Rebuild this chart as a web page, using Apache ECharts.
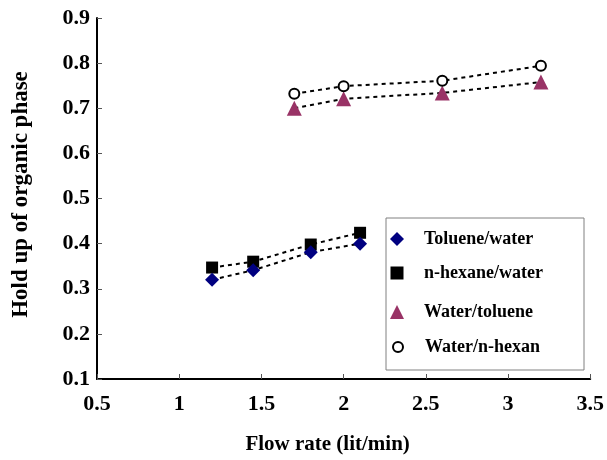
<!DOCTYPE html>
<html>
<head>
<meta charset="utf-8">
<script src="https://cdn.jsdelivr.net/npm/echarts@6/dist/echarts.min.js"></script>
<style>html,body{margin:0;padding:0;background:#fff}#c{width:607px;height:460px}</style>
</head>
<body>
<div id="c"></div>
<script>
var seriesNames = ['Toluene/water', 'n-hexane/water', 'Water/toluene', 'Water/n-hexan'];
var xLowGroup = [1.2, 1.45, 1.8, 2.1];
var xHighGroup = [1.7, 2.0, 2.6, 3.2];
var tolueneWater = [0.32, 0.341, 0.381, 0.400];
var hexaneWater = [0.347, 0.360, 0.398, 0.424];
var waterToluene = [0.700, 0.721, 0.734, 0.758];
var waterHexan = [0.732, 0.749, 0.761, 0.794];

function pairs(xs, ys) { return xs.map(function (x, i) { return [x, ys[i]]; }); }

var font = 'Liberation Serif';
var chart = echarts.init(document.getElementById('c'), null, { renderer: 'canvas' });

function dashLine(data) {
  return {
    type: 'line', data: data, symbol: 'none', silent: true, z: 3,
    lineStyle: { color: '#000', width: 2, type: [4, 4] }
  };
}

function legendAt(name, top, iconSize) {
  var s = iconSize || 14;
  return {
    left: 385 + (14 - s) / 2, top: top, orient: 'vertical', data: [name],
    itemWidth: s, itemHeight: s, itemGap: 0,
    textStyle: { fontFamily: font, fontWeight: 'bold', fontSize: 18, color: '#000',
      padding: [0, 0, 0, 15 + (14 - s) / 2] }
  };
}

chart.setOption({
  animation: false,
  backgroundColor: '#fff',
  grid: { left: 97, right: 15, top: 18, bottom: 79 },
  graphic: [{
    type: 'rect', shape: { x: 386, y: 218, width: 198, height: 152 },
    style: { fill: '#fff', stroke: '#808080', lineWidth: 1 }, z: 1
  }],
  legend: [
    legendAt(seriesNames[0], 225),
    legendAt(seriesNames[1], 259, 13),
    legendAt(seriesNames[2], 298),
    legendAt(seriesNames[3], 333, 10)
  ],
  xAxis: {
    type: 'value', min: 0.5, max: 3.5, interval: 0.5,
    name: 'Flow rate (lit/min)', nameLocation: 'middle', nameGap: 55,
    nameTextStyle: { fontFamily: font, fontWeight: 'bold', fontSize: 21, color: '#000', padding: [0, 32, 0, 0] },
    axisLine: { show: true, lineStyle: { color: '#000', width: 2 } },
    axisTick: { show: true, inside: true, length: 5, lineStyle: { color: '#555', width: 1 } },
    axisLabel: { fontFamily: font, fontWeight: 'bold', fontSize: 22, color: '#000', margin: 14,
      formatter: function (v) { return String(+v.toFixed(1)); } },
    splitLine: { show: false }
  },
  yAxis: {
    type: 'value', min: 0.1, max: 0.9, interval: 0.1,
    name: 'Hold up of organic phase', nameLocation: 'middle', nameGap: 64, nameRotate: 90,
    nameTextStyle: { fontFamily: font, fontWeight: 'bold', fontSize: 23, color: '#000', padding: [0, 0, 0, 8] },
    axisLine: { show: true, lineStyle: { color: '#000', width: 2 } },
    axisTick: { show: true, inside: true, length: 5, lineStyle: { color: '#555', width: 1 } },
    axisLabel: { fontFamily: font, fontWeight: 'bold', fontSize: 22, color: '#000', margin: 7,
      formatter: function (v) { return v.toFixed(1); } },
    splitLine: { show: false }
  },
  series: [
    dashLine(pairs(xLowGroup, hexaneWater)),
    dashLine(pairs(xLowGroup, tolueneWater)),
    dashLine(pairs(xHighGroup, waterToluene)),
    dashLine(pairs(xHighGroup, waterHexan)),
    { name: seriesNames[1], type: 'scatter', data: pairs(xLowGroup, hexaneWater), symbol: 'rect', symbolSize: 12, z: 4,
      itemStyle: { color: '#000', opacity: 1 } },
    { name: seriesNames[0], type: 'scatter', data: pairs(xLowGroup, tolueneWater), symbol: 'diamond', symbolSize: 14, z: 5,
      itemStyle: { color: '#000080', opacity: 1 } },
    { name: seriesNames[2], type: 'scatter', data: pairs(xHighGroup, waterToluene), symbol: 'triangle', symbolSize: 15, z: 4,
      itemStyle: { color: '#993366', opacity: 1 } },
    { name: seriesNames[3], type: 'scatter', data: pairs(xHighGroup, waterHexan), symbol: 'circle', symbolSize: 10, z: 5,
      itemStyle: { color: '#fff', borderColor: '#000', borderWidth: 2, opacity: 1 } }
  ]
});
</script>
</body>
</html>
